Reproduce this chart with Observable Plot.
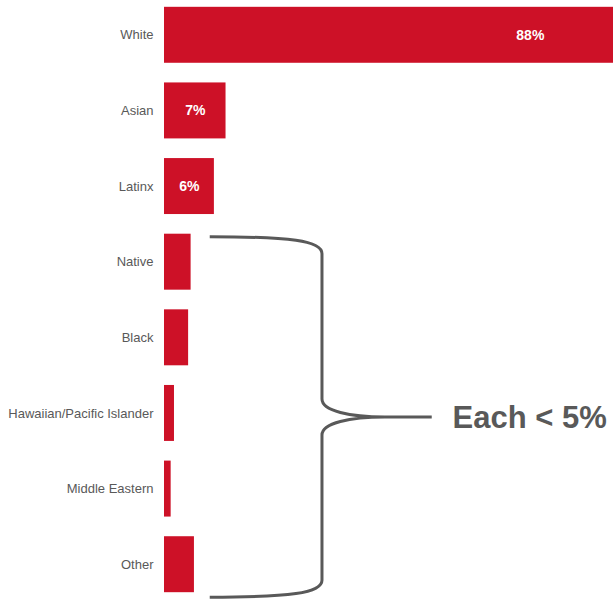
<!DOCTYPE html>
<html>
<head>
<meta charset="utf-8">
<script src="https://cdn.jsdelivr.net/npm/d3@7"></script>
<script src="https://cdn.jsdelivr.net/npm/@observablehq/plot@0.6"></script>
<style>
  html, body { margin: 0; padding: 0; background: #fff; }
  #chart { width: 613px; height: 601px; }
</style>
</head>
<body>
<div id="chart"></div>
<script>
const categories = ["White", "Asian", "Latinx", "Native", "Black", "Hawaiian/Pacific Islander", "Middle Eastern", "Other"];
const values = [88, 7.4, 6.0, 3.2, 2.9, 1.2, 0.8, 3.6];
const valueLabels = ["88%", "7%", "6%", "", "", "", "", ""];
const xDomain = [0, 54];
const braceText = "Each < 5%";
const braceFirst = "Native";
const braceLast = "Other";

const data = categories.map((c, i) => ({cat: c, value: values[i], label: valueLabels[i]}));

const plot = Plot.plot({
  width: 613,
  height: 601,
  marginLeft: 164,
  marginRight: 0,
  marginTop: 0,
  marginBottom: 2,
  style: {fontFamily: "'Liberation Sans', Arial, sans-serif", fontSize: "13px", color: "#595959", background: "#fff"},
  x: {domain: xDomain, axis: null},
  y: {domain: categories, paddingInner: 0.26, paddingOuter: 0.09, round: false, tickSize: 0, tickPadding: 11, label: null},
  marks: [
    Plot.barX(data, {x: "value", y: "cat", fill: "#cd1127", clip: true}),
    Plot.text(data.filter(d => d.label), {x: d => d.value / 2, y: "cat", text: "label", fill: "#ffffff", fontWeight: "bold", fontSize: 14})
  ]
});
document.getElementById("chart").appendChild(plot);

// Brace annotation, positioned through the chart's scales
const xs = plot.scale("x"), ys = plot.scale("y");
const bw = ys.bandwidth;
const x0 = xs.apply(5.5), xv = xs.apply(19), xt = xs.apply(32.2), xText = xs.apply(34.7);
const y1 = ys.apply(braceFirst) + 3;
const y2 = ys.apply(braceLast) + bw + 5;
const ym = (y1 + y2) / 2;
const path = `M${x0},${y1} C${xv - 32},${y1} ${xv},${y1 + 4} ${xv},${y1 + 17} L${xv},${ym - 18} C${xv},${ym - 6} ${xv + 28},${ym} ${xv + 63},${ym} L${xt},${ym} M${xv + 63},${ym} C${xv + 28},${ym} ${xv},${ym + 6} ${xv},${ym + 18} L${xv},${y2 - 17} C${xv},${y2 - 4} ${xv - 32},${y2} ${x0},${y2}`;
const svg = d3.select(plot);
svg.append("path")
  .attr("d", path)
  .attr("fill", "none")
  .attr("stroke", "#595959")
  .attr("stroke-width", 3)
  .attr("stroke-linejoin", "round");
svg.append("text")
  .attr("x", xText)
  .attr("y", ym)
  .attr("dy", "0.36em")
  .attr("text-anchor", "start")
  .attr("fill", "#595959")
  .attr("font-weight", "bold")
  .attr("font-size", 31)
  .attr("font-family", "'Liberation Sans', Arial, sans-serif")
  .text(braceText);
</script>
</body>
</html>
